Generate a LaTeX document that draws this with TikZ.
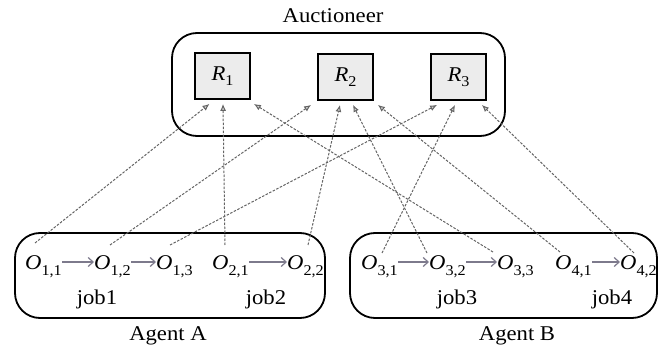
\documentclass[tikz,border=0pt]{standalone}
\usepackage{fontspec}
\setmainfont{Liberation Serif}[FakeStretch=1.08]
\usetikzlibrary{arrows.meta}
\definecolor{seqc}{RGB}{125,122,140}
\definecolor{bidc}{RGB}{100,100,100}
\newcommand{\opn}[1]{\textit{O}\raisebox{-6pt}{\fontsize{15}{15}\selectfont #1}}
\newcommand{\rsym}[1]{\textit{R}\raisebox{-5.5pt}{\fontsize{15}{15}\selectfont #1}}
\tikzset{
  lbl/.style={font=\fontsize{21}{24}\selectfont, inner sep=0pt},
  grp/.style={draw=black, line width=1.8pt, rounded corners=25pt},
  res/.style={draw=black, line width=1.8pt, fill=gray!15, minimum width=55pt, minimum height=46pt, inner sep=0pt, font=\fontsize{21}{24}\selectfont},
  op/.style={font=\fontsize{21}{24}\selectfont, inner sep=0pt, anchor=base west},
  seq/.style={draw=seqc, line width=1.2pt, -{Straight Barb[length=5pt,width=9pt]}},
  bid/.style={draw=bidc, line width=1pt, dash pattern=on 2.5pt off 1.5pt, -{Latex[length=7pt,width=6pt,fill=gray!35]}}
}
\begin{document}
\begin{tikzpicture}[x=1pt,y=-1pt]
\useasboundingbox (0,0) rectangle (659,350);
% groups
\draw[grp] (172,33) rectangle (505,136);
\draw[grp] (15,233) rectangle (325,318);
\draw[grp] (350,233) rectangle (657,318);
\node[lbl] (auc) at (333,16) {Auctioneer};
\node[lbl] (agA) at (168,336) {Agent A};
\node[lbl] (agB) at (517,336) {Agent B};
% resources
\node[res] (R1) at (222.5,76) {\rsym{1}};
\node[res] (R2) at (345.5,77) {\rsym{2}};
\node[res] (R3) at (458.5,77) {\rsym{3}};
% operations
\node[op] (O11) at (25,269) {\opn{1,1}};
\node[op] (O12) at (94,269) {\opn{1,2}};
\node[op] (O13) at (156,269) {\opn{1,3}};
\node[op] (O21) at (212,269) {\opn{2,1}};
\node[op] (O22) at (287,269) {\opn{2,2}};
\node[op] (O31) at (361,269) {\opn{3,1}};
\node[op] (O32) at (429,269) {\opn{3,2}};
\node[op] (O33) at (497,269) {\opn{3,3}};
\node[op] (O41) at (555,269) {\opn{4,1}};
\node[op] (O42) at (620,269) {\opn{4,2}};
% jobs
\node[lbl, anchor=base] (j1) at (97,304) {job1};
\node[lbl, anchor=base] (j2) at (266,304) {job2};
\node[lbl, anchor=base] (j3) at (457,304) {job3};
\node[lbl, anchor=base] (j4) at (612,304) {job4};
% precedence arrows
\draw[seq] ([yshift=7pt]O11.base east) -- ([yshift=7pt]O12.base west);
\draw[seq] ([yshift=7pt]O12.base east) -- ([yshift=7pt]O13.base west);
\draw[seq] ([yshift=7pt]O21.base east) -- ([yshift=7pt]O22.base west);
\draw[seq] ([yshift=7pt]O31.base east) -- ([yshift=7pt]O32.base west);
\draw[seq] ([yshift=7pt]O32.base east) -- ([yshift=7pt]O33.base west);
\draw[seq] ([yshift=7pt]O41.base east) -- ([yshift=7pt]O42.base west);
% bids
\draw[bid] ([xshift=10pt,yshift=26pt]O11.base west) -- ([xshift=-13pt,yshift=-4pt]R1.south);
\draw[bid] ([xshift=13pt,yshift=24pt]O21.base west) -- ([xshift=0.5pt,yshift=-4pt]R1.south);
\draw[bid] ([xshift=-4pt,yshift=17pt]O33.base west) -- ([xshift=3pt,yshift=-4pt]R1.south east);
\draw[bid] ([xshift=16pt,yshift=24pt]O12.base west) -- ([xshift=-6pt,yshift=-4pt]R2.south west);
\draw[bid] ([xshift=21pt,yshift=24pt]O22.base west) -- ([xshift=-5.5pt,yshift=-4pt]R2.south);
\draw[bid] ([xshift=-2pt,yshift=16pt]O32.base west) -- ([xshift=7.5pt,yshift=-4pt]R2.south);
\draw[bid] ([xshift=5pt,yshift=17pt]O41.base west) -- ([xshift=4pt,yshift=-4pt]R2.south east);
\draw[bid] ([xshift=14pt,yshift=24pt]O13.base west) -- ([xshift=7pt,yshift=-4pt]R3.south west);
\draw[bid] ([xshift=21pt,yshift=16pt]O31.base west) -- ([xshift=-3.5pt,yshift=-4pt]R3.south);
\draw[bid] ([xshift=14pt,yshift=16pt]O42.base west) -- ([xshift=-5pt,yshift=-4pt]R3.south east);
\end{tikzpicture}
\end{document}
